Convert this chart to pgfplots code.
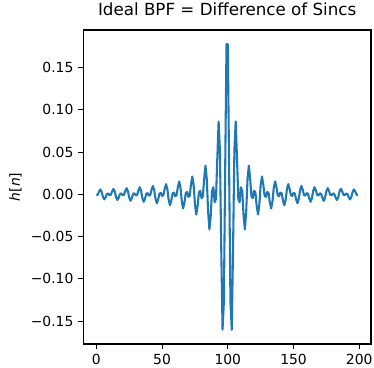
\documentclass[border=0pt]{standalone}
\usepackage{fontspec}
\setmainfont{DejaVu Sans}
\usepackage{pgfplots}
\usepackage{pgfplotstable}
\pgfplotsset{compat=1.18}
\definecolor{mplblue}{RGB}{31,119,180}
\pgfplotstableread{
n h
0 -0.00089
1 -0.00046
2 0.00326
3 0.00581
4 0.00299
5 -0.00302
6 -0.00599
7 -0.00344
8 0.00049
9 0.00098
10 -0.00099
11 -0.00051
12 0.00364
13 0.00648
14 0.00334
15 -0.00338
16 -0.00671
17 -0.00386
18 0.00055
19 0.00110
20 -0.00112
21 -0.00058
22 0.00411
23 0.00732
24 0.00378
25 -0.00383
26 -0.00762
27 -0.00439
28 0.00063
29 0.00126
30 -0.00128
31 -0.00066
32 0.00472
33 0.00842
34 0.00436
35 -0.00443
36 -0.00882
37 -0.00509
38 0.00074
39 0.00147
40 -0.00149
41 -0.00077
42 0.00554
43 0.00992
44 0.00514
45 -0.00524
46 -0.01047
47 -0.00606
48 0.00088
49 0.00176
50 -0.00179
51 -0.00093
52 0.00670
53 0.01205
54 0.00627
55 -0.00641
56 -0.01288
57 -0.00749
58 0.00109
59 0.00219
60 -0.00225
61 -0.00117
62 0.00849
63 0.01535
64 0.00804
65 -0.00827
66 -0.01672
67 -0.00979
68 0.00144
69 0.00291
70 -0.00301
71 -0.00159
72 0.01157
73 0.02114
74 0.01119
75 -0.01165
76 -0.02384
77 -0.01415
78 0.00210
79 0.00433
80 -0.00455
81 -0.00244
82 0.01819
83 0.03395
84 0.01842
85 -0.01969
86 -0.04150
87 -0.02546
88 0.00393
89 0.00845
90 -0.00934
91 -0.00532
92 0.04244
93 0.08619
94 0.05190
95 -0.06344
96 -0.16007
97 -0.12732
98 0.03014
99 0.17747
100 0.17747
101 0.03014
102 -0.12732
103 -0.16007
104 -0.06344
105 0.05190
106 0.08619
107 0.04244
108 -0.00532
109 -0.00934
110 0.00845
111 0.00393
112 -0.02546
113 -0.04150
114 -0.01969
115 0.01842
116 0.03395
117 0.01819
118 -0.00244
119 -0.00455
120 0.00433
121 0.00210
122 -0.01415
123 -0.02384
124 -0.01165
125 0.01119
126 0.02114
127 0.01157
128 -0.00159
129 -0.00301
130 0.00291
131 0.00144
132 -0.00979
133 -0.01672
134 -0.00827
135 0.00804
136 0.01535
137 0.00849
138 -0.00117
139 -0.00225
140 0.00219
141 0.00109
142 -0.00749
143 -0.01288
144 -0.00641
145 0.00627
146 0.01205
147 0.00670
148 -0.00093
149 -0.00179
150 0.00176
151 0.00088
152 -0.00606
153 -0.01047
154 -0.00524
155 0.00514
156 0.00992
157 0.00554
158 -0.00077
159 -0.00149
160 0.00147
161 0.00074
162 -0.00509
163 -0.00882
164 -0.00443
165 0.00436
166 0.00842
167 0.00472
168 -0.00066
169 -0.00128
170 0.00126
171 0.00063
172 -0.00439
173 -0.00762
174 -0.00383
175 0.00378
176 0.00732
177 0.00411
178 -0.00058
179 -0.00112
180 0.00110
181 0.00055
182 -0.00386
183 -0.00671
184 -0.00338
185 0.00334
186 0.00648
187 0.00364
188 -0.00051
189 -0.00099
190 0.00098
191 0.00049
192 -0.00344
193 -0.00599
194 -0.00302
195 0.00299
196 0.00581
197 0.00326
198 -0.00046
199 -0.00089
}\hdata
\begin{document}
\begin{tikzpicture}
\path[use as bounding box] (-83.3pt,-23pt) rectangle (290.7pt,344pt);
\begin{axis}[
  at={(0,0)}, anchor=south west,
  scale only axis,
  width=287.7pt, height=314pt,
  xmin=-9.95, xmax=208.95,
  ymin=-0.17695, ymax=0.19435,
  xtick={0,50,100,150,200},
  xticklabels={0,50,100,150,200},
  ytick={-0.15,-0.10,-0.05,0,0.05,0.10,0.15},
  yticklabels={−0.15,−0.10,−0.05,0.00,0.05,0.10,0.15},
  xtick pos=bottom, ytick pos=left,
  tick align=outside,
  major tick length=4.86pt,
  every tick/.style={black, line width=1.11pt},
  axis line style={line width=1.11pt},
  tick label style={font=\fontsize{13.9}{16}\selectfont, inner sep=0pt},
  xticklabel style={yshift=-4.86pt},
  yticklabel style={xshift=-4.86pt},
  title={Ideal BPF = Difference of Sincs},
  title style={font=\fontsize{16.7}{19}\selectfont, at={(axis description cs:0.5,1)}, anchor=base, yshift=8.3pt, inner sep=0pt},
  ylabel={{\itshape h}[{\itshape n}]},
  ylabel style={font=\fontsize{13.9}{16}\selectfont, at={(axis description cs:-0.2357,0.5)}, anchor=center, rotate=0, inner sep=0pt},
]
\addplot[mplblue, line width=2.08pt, line join=round] table[x=n, y=h] {\hdata};
\end{axis}
\end{tikzpicture}
\end{document}
